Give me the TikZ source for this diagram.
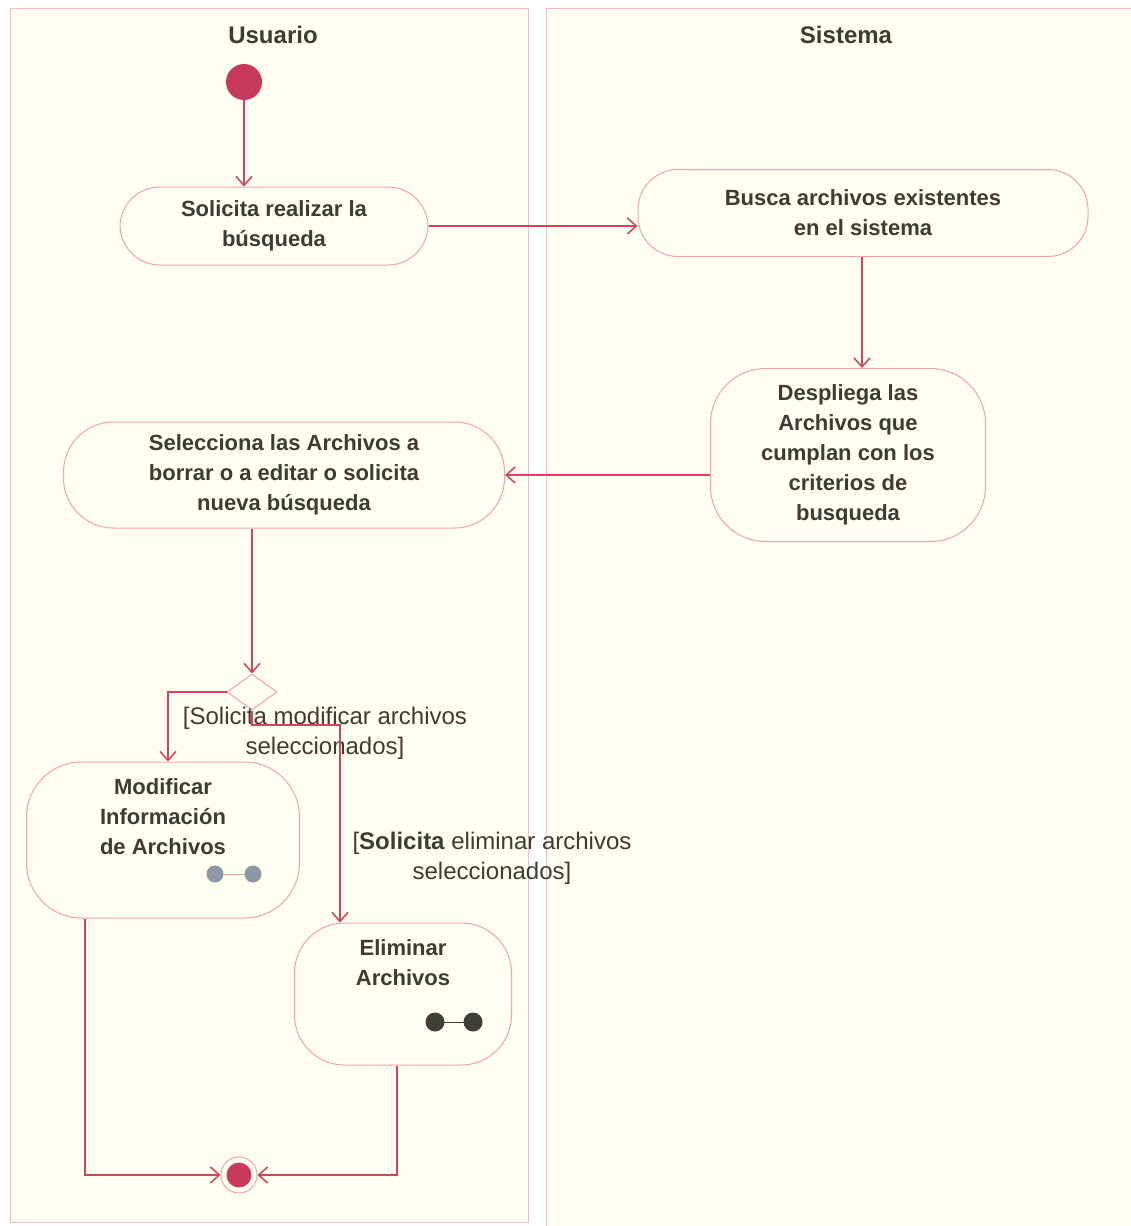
\documentclass[tikz,border=0pt]{standalone}
\usepackage{fontspec}
\setmainfont{Liberation Sans}
\usetikzlibrary{arrows.meta,shapes.geometric}
\definecolor{lanefill}{HTML}{FFFEF1}
\definecolor{laneline}{HTML}{F2BAC6}
\definecolor{nodeline}{HTML}{EDA2B0}
\definecolor{edgecol}{HTML}{D8405E}
\definecolor{txt}{HTML}{3C3C30}
\definecolor{startcol}{HTML}{C83A5C}
\definecolor{rakegray}{HTML}{8E98A4}
\definecolor{rakedark}{HTML}{3F4035}
\tikzset{
  lane/.style={draw=laneline, fill=lanefill, line width=1pt},
  act/.style={draw=nodeline, fill=lanefill, line width=1pt, rounded corners=40pt,
    align=center, text=txt, font=\fontsize{22}{30}\selectfont\bfseries, inner sep=0pt},
  acttext/.style={text=txt, font=\fontsize{22}{30}\selectfont\bfseries, align=center},
  flow/.style={draw=edgecol, line width=1.5pt, -{Straight Barb[length=9pt,width=16pt,line width=1.5pt]}},
  guard/.style={text=txt, align=center, font=\fontsize{24}{30}\selectfont, inner sep=0pt},
  lanetitle/.style={text=txt, font=\fontsize{24}{28}\selectfont\bfseries},
}
\begin{document}
\begin{tikzpicture}[x=1pt,y=-1pt]
\useasboundingbox (0,0) rectangle (1131,1226);
\fill[white] (0,0) rectangle (1131,1226);
% lanes
\draw[lane] (10,8) rectangle (528,1222);
\draw[lane] (546,8) rectangle (1131,1226);
\node[lanetitle] (tU) at (273,35) {Usuario};
\node[lanetitle] (tS) at (846,35) {Sistema};
% nodes
\node[circle, fill=startcol, minimum size=36pt, inner sep=0pt] (ini) at (244,82) {};
\node[act, minimum width=308pt, minimum height=78pt] (a1) at (274,226) {Solicita realizar la\\búsqueda};
\node[act, minimum width=450pt, minimum height=87pt] (a2) at (863,213) {Busca archivos existentes\\en el sistema};
\node[act, minimum width=275pt, minimum height=173pt, rounded corners=55pt] (a3) at (848,455) {Despliega las\\Archivos que\\cumplan con los\\criterios de\\busqueda};
\node[act, minimum width=441pt, minimum height=106pt, rounded corners=50pt] (a4) at (284,475) {Selecciona las Archivos a\\borrar o a editar o solicita\\nueva búsqueda};
\node[diamond, draw=nodeline, fill=lanefill, line width=1pt, minimum width=50pt, minimum height=36pt, inner sep=0pt] (dec) at (252,692) {};
\node[act, minimum width=273pt, minimum height=156pt, rounded corners=55pt] (mod) at (163,840) {};
\node[acttext] (modt) at (163,817) {Modificar\\Información\\de Archivos};
\node[act, minimum width=217pt, minimum height=142pt, rounded corners=50pt] (eli) at (403,994) {};
\node[acttext] (elit) at (403,963) {Eliminar\\Archivos};
% rake icons
\draw[nodeline, line width=1pt] (215,874) -- (253,874);
\fill[rakegray] (215,874) circle (8.5pt);
\fill[rakegray] (253,874) circle (8.5pt);
\draw[rakedark, line width=1pt] (435,1022) -- (473,1022);
\fill[rakedark] (435,1022) circle (9.5pt);
\fill[rakedark] (473,1022) circle (9.5pt);
% final node
\node[circle, draw=nodeline, fill=lanefill, line width=1pt, minimum size=36pt, inner sep=0pt] (fin) at (239,1175) {};
\fill[startcol] (fin) circle (12.5pt);
% guards
\node[guard] (g1) at (325,733) {[Solicita modificar archivos\\seleccionados]};
\node[guard] (g2) at (492,858) {[\textbf{Solicita} eliminar archivos\\seleccionados]};
% connectors
\coordinate (k) at (340,725);
\draw[flow] (ini) -- (ini |- a1.north);
\draw[flow] (a1.east) -- (a1.east -| a2.west);
\draw[flow] (a2.south -| 862,0) -- (862,368);
\draw[flow] (a3.west |- a4.east) -- (a4.east);
\draw[flow] (a4.south -| dec.north) -- (dec.north);
\draw[flow] (dec.west) -| ([xshift=5pt]mod.north);
\draw[flow] (dec.south) |- (k) -- (k |- eli.north);
\draw[flow] ([xshift=-78pt]mod.south) |- (fin.west);
\draw[flow] ([xshift=-6pt]eli.south) |- (fin.east);
\end{tikzpicture}
\end{document}
